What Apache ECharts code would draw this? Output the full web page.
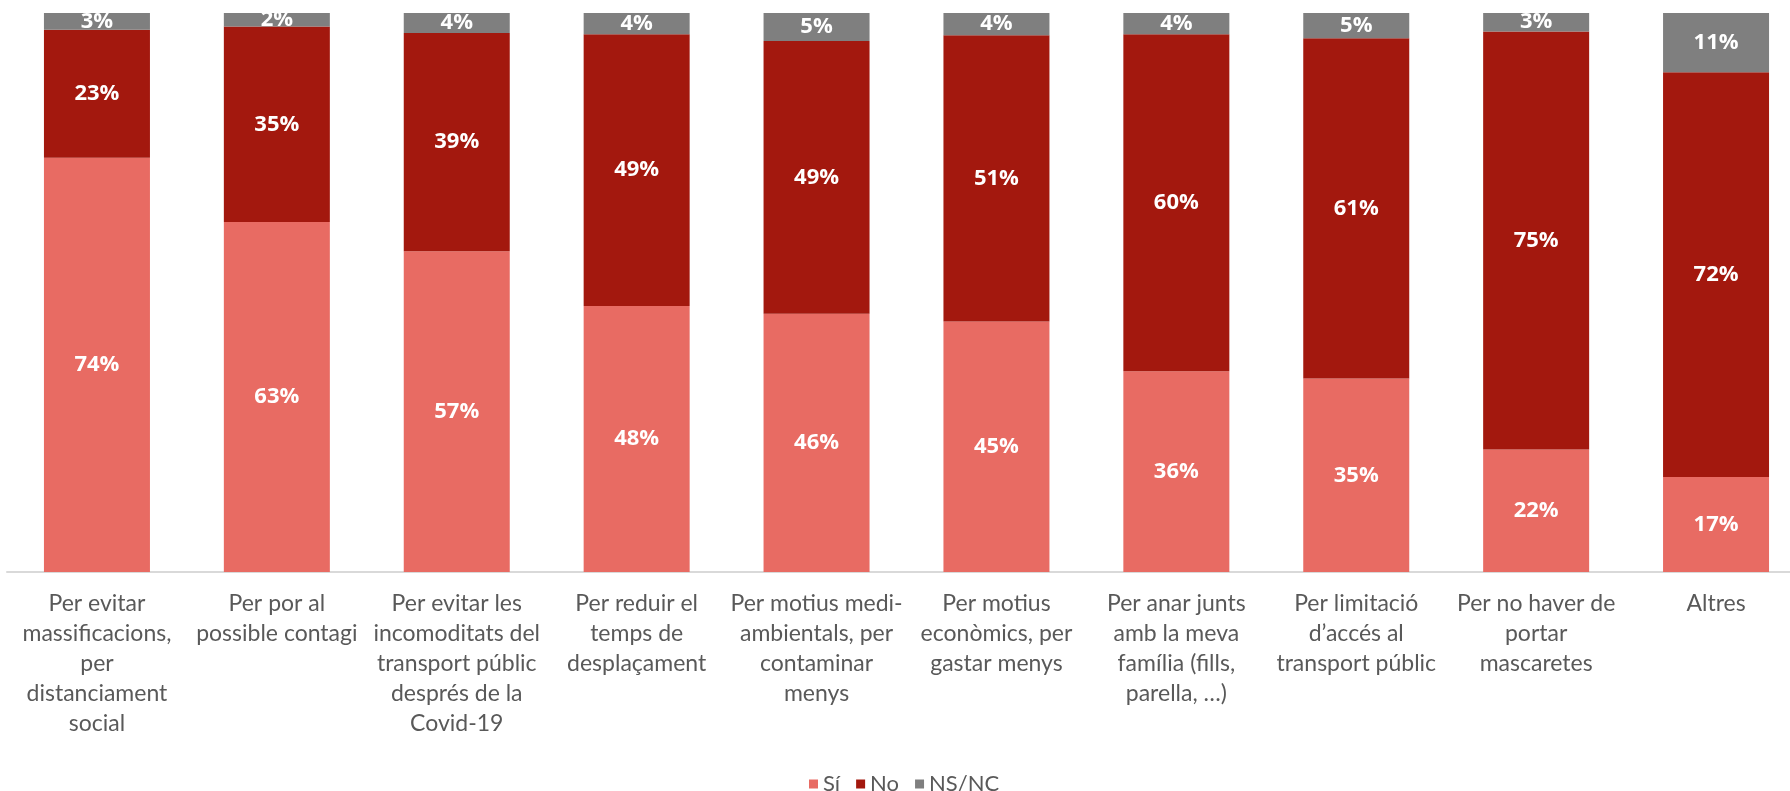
<!DOCTYPE html>
<html>
<head>
<meta charset="utf-8">
<script src="https://cdn.jsdelivr.net/npm/echarts@6/dist/echarts.min.js"></script>
<style>
  html, body { margin: 0; padding: 0; background: #fff; overflow: hidden; width: 1790px; height: 791px; }
  /* the plot runs past the right edge, like the cropped original */
  #chart { width: 1806px; height: 791px; }
</style>
</head>
<body>
<div id="chart"></div>
<script>
// categories (line breaks as in the original)
var categories = [
  'Per evitar\nmassificacions,\nper\ndistanciament\nsocial',
  'Per por al\npossible contagi',
  'Per evitar les\nincomoditats del\ntransport públic\ndesprés de la\nCovid-19',
  'Per reduir el\ntemps de\ndesplaçament',
  'Per motius medi-\nambientals, per\ncontaminar\nmenys',
  'Per motius\neconòmics, per\ngastar menys',
  'Per anar junts\namb la meva\nfamília (fills,\nparella, …)',
  'Per limitació\nd’accés al\ntransport públic',
  'Per no haver de\nportar\nmascaretes',
  'Altres'
];

// shares in % (estimated, labels show them rounded)
var si   = [74.1, 62.6, 57.4, 47.6, 46.2, 44.8, 35.9, 34.6, 21.9, 17.0];
var no   = [22.9, 35.0, 39.0, 48.6, 48.8, 51.2, 60.3, 60.9, 74.8, 72.4];
var nsnc = [3.0, 2.4, 3.6, 3.8, 5.0, 4.0, 3.8, 4.5, 3.3, 10.6];

var chart = echarts.init(document.getElementById('chart'));

function serie(name, data, color) {
  return {
    name: name,
    type: 'bar',
    stack: 'total',
    barWidth: 106,
    data: data,
    itemStyle: { color: color },
    label: {
      show: true,
      position: 'inside',
      color: '#fff',
      fontFamily: 'Open Sans',
      fontWeight: 'bold',
      fontSize: 22,
      formatter: function (p) { return Math.round(p.value) + '%'; }
    }
  };
}

var option = {
  animation: false,
  grid: { left: 7, right: 0, top: 13, bottom: 219 },
  legend: {
    left: 804,
    top: 768,
    itemWidth: 9,
    itemHeight: 9,
    itemGap: 16,
    icon: 'rect',
    textStyle: { color: '#595959', fontFamily: 'Lato', fontSize: 22 },
    data: ['Sí', 'No', 'NS/NC']
  },
  xAxis: {
    type: 'category',
    data: categories,
    axisLine: { lineStyle: { color: '#D9D9D9', width: 2 } },
    axisTick: { show: false },
    axisLabel: {
      interval: 0,
      margin: 17,
      color: '#595959',
      fontFamily: 'Lato',
      fontSize: 23,
      lineHeight: 30,
      align: 'center'
    }
  },
  yAxis: {
    type: 'value',
    min: 0,
    max: 100,
    show: false
  },
  series: [
    serie('Sí', si, '#E86B63'),
    serie('No', no, '#A3180E'),
    serie('NS/NC', nsnc, '#7F7F7F')
  ]
};

chart.setOption(option);
</script>
</body>
</html>
